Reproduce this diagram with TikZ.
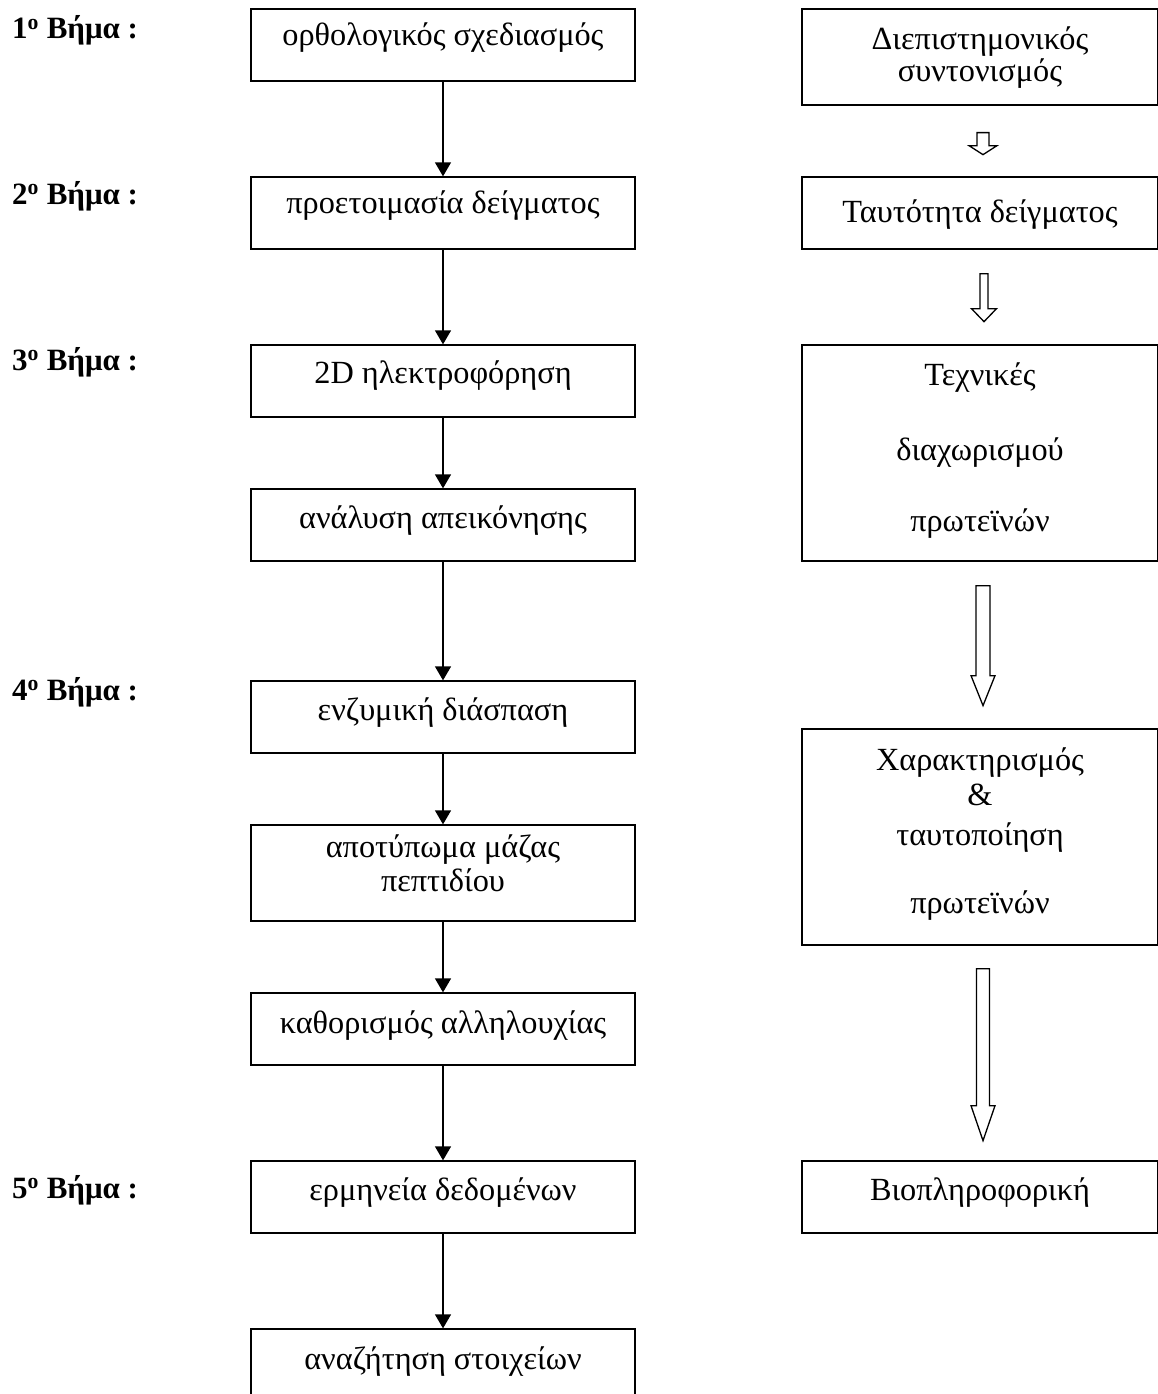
\documentclass[tikz,border=0pt]{standalone}
\usepackage{fontspec}
\setmainfont{Liberation Serif}
\usetikzlibrary{arrows.meta,calc}
\newcommand\hollowarrow[5]{%
  \path #1 coordinate (ha);
  \draw[hollow] ($(ha)+(-#4,0)$) -- ($(ha)+(-#4,#2)$) -- ($(ha)+(-#5,#2)$)
    -- ($(ha)+(0,{#2+#3})$) -- ($(ha)+(#5,#2)$) -- ($(ha)+(#4,#2)$)
    -- ($(ha)+(#4,0)$) -- cycle;}
\begin{document}
\begin{tikzpicture}[x=1pt,y=-1pt,
  box/.style={draw, line width=1.3pt, minimum width=384pt, inner sep=0pt},
  rbox/.style={draw, line width=1.3pt, minimum width=356pt, inner sep=0pt},
  txt/.style={anchor=base, inner sep=0pt, font=\fontsize{32.3}{34}\selectfont},
  steplbl/.style={anchor=base west, inner sep=0pt, font=\fontsize{31}{33}\selectfont\bfseries},
  flow/.style={line width=1.3pt, -{Triangle[length=14pt,width=16pt]}},
  hollow/.style={draw, line width=1.3pt, fill=white, line join=miter}]
\clip (0,0) rectangle (1158,1394);
% step labels
\node[steplbl] (s1) at (12,39) {1\textsuperscript{o} Βήμα :};
\node[steplbl] (s2) at (12,204) {2\textsuperscript{o} Βήμα :};
\node[steplbl] (s3) at (12,370) {3\textsuperscript{o} Βήμα :};
\node[steplbl] (s4) at (12,700) {4\textsuperscript{o} Βήμα :};
\node[steplbl] (s5) at (12,1198) {5\textsuperscript{o} Βήμα :};
% left column boxes
\node[box, minimum height=72pt] (b1) at (443,45) {};
\node[box, minimum height=72pt] (b2) at (443,213) {};
\node[box, minimum height=72pt] (b3) at (443,381) {};
\node[box, minimum height=72pt] (b4) at (443,525) {};
\node[box, minimum height=72pt] (b5) at (443,717) {};
\node[box, minimum height=96pt] (b6) at (443,873) {};
\node[box, minimum height=72pt] (b7) at (443,1029) {};
\node[box, minimum height=72pt] (b8) at (443,1197) {};
\node[box, minimum height=100pt] (b9) at (443,1379) {};
\node[txt] (t1) at (443,46) {ορθολογικός σχεδιασμός};
\node[txt] (t2) at (443,213) {προετοιμασία δείγματος};
\node[txt] (t3) at (443,383) {2D ηλεκτροφόρηση};
\node[txt] (t4) at (443,528) {ανάλυση απεικόνησης};
\node[txt] (t5) at (443,720) {ενζυμική διάσπαση};
\node[txt] (t6a) at (443,857) {αποτύπωμα μάζας};
\node[txt] (t6b) at (443,891) {πεπτιδίου};
\node[txt] (t7) at (443,1033) {καθορισμός αλληλουχίας};
\node[txt] (t8) at (443,1200) {ερμηνεία δεδομένων};
\node[txt] (t9) at (443,1369) {αναζήτηση στοιχείων};
% left arrows
\foreach \a/\b in {b1/b2,b2/b3,b3/b4,b4/b5,b5/b6,b6/b7,b7/b8,b8/b9}
  \draw[flow] (\a.south) -- (\b.north);
% right column boxes
\node[rbox, minimum height=96pt] (r1) at (980,57) {};
\node[rbox, minimum height=72pt] (r2) at (980,213) {};
\node[rbox, minimum height=216pt] (r3) at (980,453) {};
\node[rbox, minimum height=216pt] (r4) at (980,837) {};
\node[rbox, minimum height=72pt] (r5) at (980,1197) {};
\node[txt] (u1a) at (980,50) {Διεπιστημονικός};
\node[txt] (u1b) at (980,82) {συντονισμός};
\node[txt] (u2) at (980,222) {Ταυτότητα δείγματος};
\node[txt] (u3a) at (980,385) {Τεχνικές};
\node[txt] (u3b) at (980,460) {διαχωρισμού};
\node[txt] (u3c) at (980,531) {πρωτεϊνών};
\node[txt] (u4a) at (980,770) {Χαρακτηρισμός};
\node[txt] (u4b) at (980,805) {\&};
\node[txt] (u4c) at (980,845) {ταυτοποίηση};
\node[txt] (u4d) at (980,913) {πρωτεϊνών};
\node[txt] (u5) at (980,1200) {Βιοπληροφορική};
% hollow block arrows
\hollowarrow{($(r1.south)+(3,27)$)}{13}{9}{6}{14}
\hollowarrow{($(r2.south)+(4,24)$)}{35}{13}{4}{12.5}
\hollowarrow{($(r3.south)+(3,24)$)}{90}{30}{7}{12}
\hollowarrow{($(r4.south)+(3,23)$)}{137}{35}{6.5}{12}
\end{tikzpicture}
\end{document}
